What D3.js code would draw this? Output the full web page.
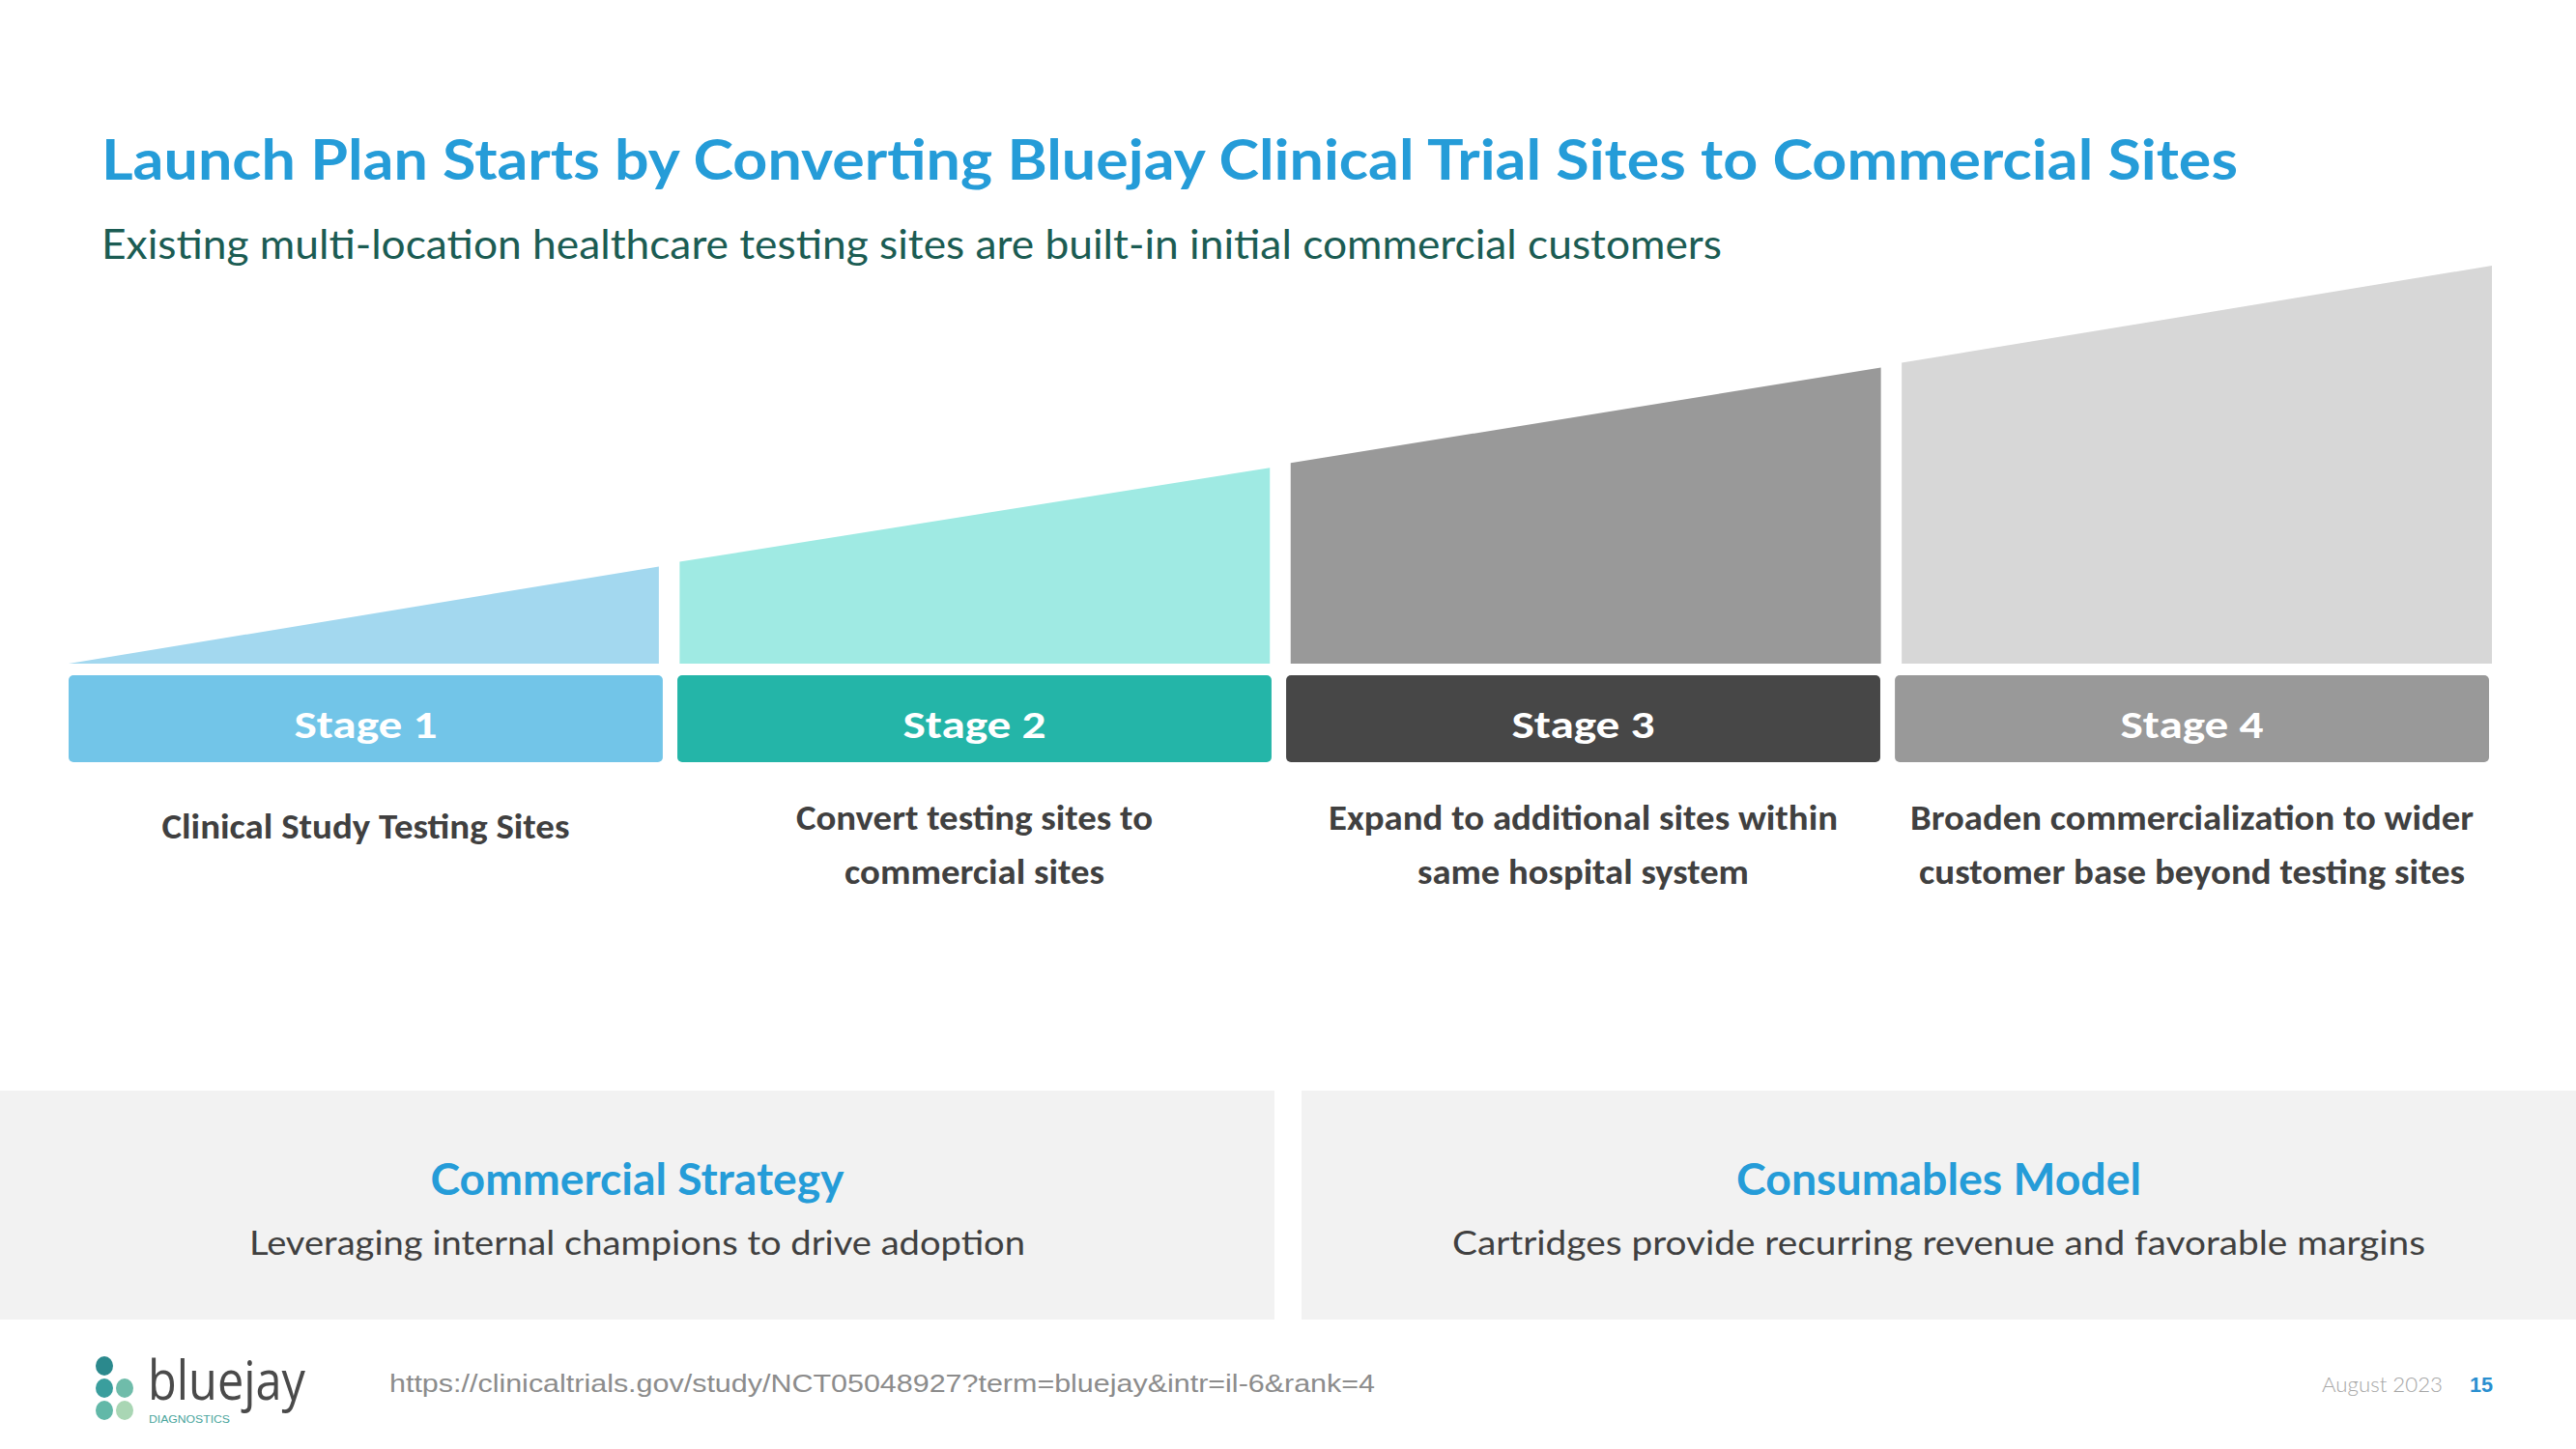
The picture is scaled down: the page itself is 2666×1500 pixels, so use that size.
<!DOCTYPE html>
<html>
<head>
<meta charset="utf-8">
<script src="https://cdn.jsdelivr.net/npm/d3@7"></script>
<style>
  html, body { margin: 0; padding: 0; background: #ffffff; }
  svg { display: block; }
</style>
</head>
<body>
<div id="slide"></div>
<script>
// Slide size
var svgWidth = 2666;
var svgHeight = 1500;

// Stage data
var stages = ["Stage 1", "Stage 2", "Stage 3", "Stage 4"];
// growth index at left / right edge of each wedge (0 - 100)
var growthStart = [0, 25.6, 50.4, 75.6];
var growthEnd = [24.4, 49.2, 74.4, 100];
var descriptions = [
  ["Clinical Study Testing Sites"],
  ["Convert testing sites to", "commercial sites"],
  ["Expand to additional sites within", "same hospital system"],
  ["Broaden commercialization to wider", "customer base beyond testing sites"]
];
var wedgeColors = ["#a3d8ef", "#9feae3", "#999999", "#d7d7d7"];
var boxColors = ["#72c5e8", "#24b5a8", "#474747", "#999999"];

// Bottom panels
var panelTitles = ["Commercial Strategy", "Consumables Model"];
var panelTexts = [
  "Leveraging internal champions to drive adoption",
  "Cartridges provide recurring revenue and favorable margins"
];

var titleText = "Launch Plan Starts by Converting Bluejay Clinical Trial Sites to Commercial Sites";
var subtitleText = "Existing multi-location healthcare testing sites are built-in initial commercial customers";
var sourceText = "https://clinicaltrials.gov/study/NCT05048927?term=bluejay&intr=il-6&rank=4";
var dateText = "August 2023";
var pageText = "15";

var headFont = "Futura, 'Century Gothic', 'URW Gothic', Lato, sans-serif";
var bodyFont = "Carlito, Calibri, Lato, 'Open Sans', sans-serif";

// widths the description lines take on the slide (px)
var descWidths = [[422], [369, 269], [527, 343], [583, 565]];

var svg = d3.select("#slide").append("svg")
  .attr("width", svgWidth)
  .attr("height", svgHeight);

// squeeze text into the width it takes on the slide
function fit(sel, w) {
  sel.attr("textLength", w).attr("lengthAdjust", "spacingAndGlyphs");
  return sel;
}

// Title + subtitle
fit(svg.append("text")
  .attr("x", 105).attr("y", 186)
  .style("font-family", headFont)
  .style("font-weight", 700)
  .style("font-size", "58px")
  .style("fill", "#259cd8")
  .text(titleText), 2211);

fit(svg.append("text")
  .attr("x", 105).attr("y", 268)
  .style("font-family", headFont)
  .style("font-weight", 400)
  .style("font-size", "42px")
  .style("fill", "#1b5c53")
  .text(subtitleText), 1677);

// Scales
var baseY = 687;
var yScale = d3.scaleLinear().domain([0, 100]).range([baseY, 275]);

var wedgeX = d3.scaleBand().domain(stages).range([71, 2579]).paddingInner(0.034).paddingOuter(0);
var boxX = d3.scaleBand().domain(stages).range([71, 2576]).paddingInner(0.024).paddingOuter(0);

var line = d3.line();

// Wedges
svg.append("g").selectAll("path")
  .data(stages)
  .enter()
  .append("path")
  .attr("d", function(d, i) {
    var x0 = wedgeX(d), x1 = wedgeX(d) + wedgeX.bandwidth();
    return line([[x0, baseY], [x0, yScale(growthStart[i])], [x1, yScale(growthEnd[i])], [x1, baseY]]) + "Z";
  })
  .attr("fill", function(d, i) { return wedgeColors[i]; });

// Stage boxes
var boxTop = 699, boxH = 90;
svg.append("g").selectAll("rect")
  .data(stages)
  .enter()
  .append("rect")
  .attr("x", function(d) { return boxX(d); })
  .attr("y", boxTop)
  .attr("width", boxX.bandwidth())
  .attr("height", boxH)
  .attr("rx", 5)
  .attr("fill", function(d, i) { return boxColors[i]; });

svg.append("g").selectAll("text")
  .data(stages)
  .enter()
  .append("text")
  .attr("x", function(d) { return boxX(d) + boxX.bandwidth() / 2; })
  .attr("y", 764)
  .attr("text-anchor", "middle")
  .style("font-family", bodyFont)
  .style("font-weight", 700)
  .style("font-size", "40px")
  .style("fill", "#ffffff")
  .text(function(d) { return d; })
  .each(function() { fit(d3.select(this), 148); });

// Stage descriptions
var descG = svg.append("g");
stages.forEach(function(s, i) {
  var cx = boxX(s) + boxX.bandwidth() / 2;
  var lines = descriptions[i];
  lines.forEach(function(t, j) {
    var y = lines.length === 1 ? 868 : 859 + j * 56;
    var el = descG.append("text")
      .attr("x", cx)
      .attr("y", y)
      .attr("text-anchor", "middle")
      .style("font-family", bodyFont)
      .style("font-weight", 700)
      .style("font-size", "36px")
      .style("fill", "#404040")
      .text(t);
    fit(el, descWidths[i][j]);
  });
});

// Bottom panels
var panelX = d3.scaleBand().domain(panelTitles).range([0, svgWidth]).paddingInner(0.0208).paddingOuter(0);
var panelTitleW = [428, 419];
var panelTextW = [803, 1007];

var panels = svg.append("g").selectAll("g")
  .data(panelTitles)
  .enter()
  .append("g");

panels.append("rect")
  .attr("x", function(d) { return panelX(d); })
  .attr("y", 1129)
  .attr("width", panelX.bandwidth())
  .attr("height", 237)
  .attr("fill", "#f2f2f2");

panels.append("text")
  .attr("x", function(d) { return panelX(d) + panelX.bandwidth() / 2; })
  .attr("y", 1237)
  .attr("text-anchor", "middle")
  .style("font-family", headFont)
  .style("font-weight", 700)
  .style("font-size", "45px")
  .style("fill", "#259cd8")
  .text(function(d) { return d; })
  .each(function(d, i) { fit(d3.select(this), panelTitleW[i]); });

panels.append("text")
  .attr("x", function(d) { return panelX(d) + panelX.bandwidth() / 2; })
  .attr("y", 1299)
  .attr("text-anchor", "middle")
  .style("font-family", headFont)
  .style("font-weight", 400)
  .style("font-size", "35px")
  .style("fill", "#404040")
  .text(function(d, i) { return panelTexts[i]; })
  .each(function(d, i) { fit(d3.select(this), panelTextW[i]); });

// Footer logo
var logo = svg.append("g");
var dots = [[108, 1414, "#2b898d"], [108, 1437, "#3a9e9d"], [108, 1460, "#62b8a8"], [129, 1437, "#6fbcaa"], [129, 1460, "#a9d6b4"]];
logo.selectAll("ellipse")
  .data(dots)
  .enter()
  .append("ellipse")
  .attr("cx", function(d) { return d[0]; })
  .attr("cy", function(d) { return d[1]; })
  .attr("rx", 9)
  .attr("ry", 10)
  .attr("fill", function(d) { return d[2]; });

fit(logo.append("text")
  .attr("x", 153).attr("y", 1449)
  .style("font-family", "'Liberation Sans Narrow', 'Open Sans', sans-serif")
  .style("font-weight", 400)
  .style("font-size", "56px")
  .style("fill", "#4a4a4a")
  .text("bluejay"), 163);

fit(logo.append("text")
  .attr("x", 154).attr("y", 1473)
  .style("font-family", "'Liberation Sans', sans-serif")
  .style("font-size", "10px")
  .style("fill", "#4aa59d")
  .text("DIAGNOSTICS"), 84);

// Footer source + date + page
fit(svg.append("text")
  .attr("x", 403).attr("y", 1441)
  .style("font-family", "'Liberation Sans', Arial, sans-serif")
  .style("font-size", "25px")
  .style("fill", "#8c8c8c")
  .text(sourceText), 1020);

fit(svg.append("text")
  .attr("x", 2403).attr("y", 1441)
  .style("font-family", headFont)
  .style("font-weight", 300)
  .style("font-size", "21px")
  .style("fill", "#a6a6a6")
  .text(dateText), 125);

fit(svg.append("text")
  .attr("x", 2556).attr("y", 1441)
  .style("font-family", "'Liberation Sans', Arial, sans-serif")
  .style("font-weight", 700)
  .style("font-size", "22px")
  .style("fill", "#2a8fd0")
  .text(pageText), 24);
</script>
</body>
</html>
